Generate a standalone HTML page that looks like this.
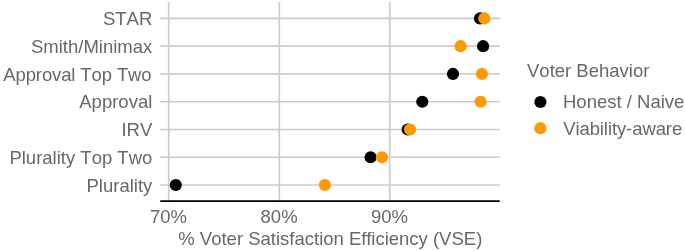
<!DOCTYPE html>
<html><head><meta charset="utf-8"><style>
html,body{margin:0;padding:0;background:#fff;width:685px;height:251px;overflow:hidden}
svg{display:block}
text{font-kerning:none;font-family:"Liberation Sans",Arial,sans-serif;font-size:18.5px;fill:#686868}
</style></head><body>
<svg width="685" height="251" viewBox="0 0 685 251">
<line x1="160.3" x2="499.7" y1="18.45" y2="18.45" stroke="#cccccc" stroke-width="1.7"/>
<line x1="160.3" x2="499.7" y1="46.21" y2="46.21" stroke="#cccccc" stroke-width="1.7"/>
<line x1="160.3" x2="499.7" y1="73.97" y2="73.97" stroke="#cccccc" stroke-width="1.7"/>
<line x1="160.3" x2="499.7" y1="101.73" y2="101.73" stroke="#cccccc" stroke-width="1.7"/>
<line x1="160.3" x2="499.7" y1="129.49" y2="129.49" stroke="#cccccc" stroke-width="1.7"/>
<line x1="160.3" x2="499.7" y1="157.25" y2="157.25" stroke="#cccccc" stroke-width="1.7"/>
<line x1="160.3" x2="499.7" y1="185.01" y2="185.01" stroke="#cccccc" stroke-width="1.7"/>
<line x1="168.7" x2="168.7" y1="2.0" y2="201" stroke="#cccccc" stroke-width="1.7"/>
<line x1="279.3" x2="279.3" y1="2.0" y2="201" stroke="#cccccc" stroke-width="1.7"/>
<line x1="389.75" x2="389.75" y1="2.0" y2="201" stroke="#cccccc" stroke-width="1.7"/>
<line x1="160.3" x2="499.7" y1="201.1" y2="201.1" stroke="#000" stroke-width="1.9"/>
<circle cx="480.0" cy="18.45" r="6.1" fill="#000"/>
<circle cx="484.3" cy="18.45" r="6.1" fill="#ff9900"/>
<circle cx="483.1" cy="46.21" r="6.1" fill="#000"/>
<circle cx="460.6" cy="46.21" r="6.1" fill="#ff9900"/>
<circle cx="453.0" cy="73.97" r="6.1" fill="#000"/>
<circle cx="481.9" cy="73.97" r="6.1" fill="#ff9900"/>
<circle cx="422.3" cy="101.73" r="6.1" fill="#000"/>
<circle cx="480.6" cy="101.73" r="6.1" fill="#ff9900"/>
<circle cx="407.7" cy="129.49" r="6.1" fill="#000"/>
<circle cx="410.0" cy="129.49" r="6.1" fill="#ff9900"/>
<circle cx="370.6" cy="157.25" r="6.1" fill="#000"/>
<circle cx="382.0" cy="157.25" r="6.1" fill="#ff9900"/>
<circle cx="175.8" cy="185.01" r="6.1" fill="#000"/>
<circle cx="324.9" cy="185.01" r="6.1" fill="#ff9900"/>
<text x="152.30" y="25.15" text-anchor="end">STAR</text>
<text x="152.30" y="52.91" text-anchor="end">Smith/Minimax</text>
<text x="151.50" y="80.67" text-anchor="end" style="letter-spacing:-0.12px">Approval Top Two</text>
<text x="152.30" y="108.43" text-anchor="end">Approval</text>
<text x="152.30" y="136.19" text-anchor="end">IRV</text>
<text x="152.30" y="163.95" text-anchor="end">Plurality Top Two</text>
<text x="152.30" y="191.71" text-anchor="end">Plurality</text>
<text x="168.5" y="223.1" text-anchor="middle">70%</text>
<text x="279.1" y="223.1" text-anchor="middle">80%</text>
<text x="389.55" y="223.1" text-anchor="middle">90%</text>
<text x="330.3" y="245.4" text-anchor="middle" style="font-kerning:normal">% Voter Satisfaction Efficiency (VSE)</text>
<text x="527" y="77.1">Voter Behavior</text>
<circle cx="540.4" cy="102" r="6.1" fill="#000"/>
<circle cx="540.4" cy="128.2" r="6.1" fill="#ff9900"/>
<text x="563" y="108.3">Honest / Naive</text>
<text x="563.2" y="134.9" style="letter-spacing:-0.09px">Viability-aware</text>
</svg>
</body></html>
